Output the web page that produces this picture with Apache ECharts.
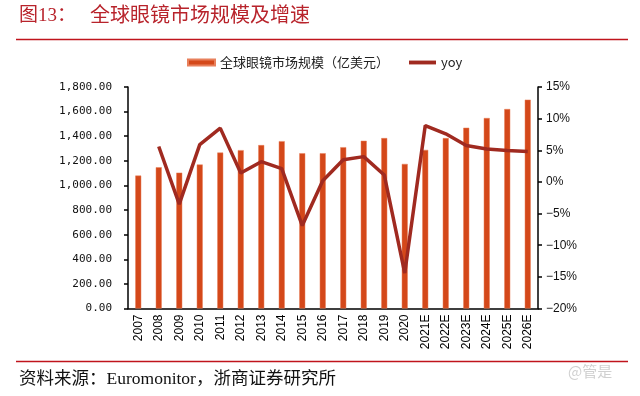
<!DOCTYPE html>
<html>
<head>
<meta charset="utf-8">
<script src="https://cdn.jsdelivr.net/npm/echarts@6/dist/echarts.min.js"></script>
<style>html,body{margin:0;padding:0;background:#fff;}#c{width:640px;height:396px;}</style>
</head>
<body>
<div id="c"></div>
<script>
const categories = ['2007','2008','2009','2010','2011','2012','2013','2014','2015','2016','2017','2018','2019','2020','2021E','2022E','2023E','2024E','2025E','2026E'];
const marketSize = [1080,1148,1104,1170,1267,1287,1328,1360,1262,1262,1311,1363,1385,1175,1289,1385,1469,1548,1621,1697];
const yoy = [null,5.6,-3.5,5.9,8.5,1.4,3.2,2.1,-6.9,0.2,3.5,4.0,1.1,-14.4,8.9,7.6,5.75,5.2,4.95,4.8];
const leftTicks = {min:0, max:1800, interval:200};
const rightTicks = {min:-20, max:15, interval:5};
const seriesNames = ['全球眼镜市场规模（亿美元）','yoy'];

const chart = echarts.init(document.getElementById('c'), null, {renderer:'canvas'});
const serifCJK = "'Liberation Serif', 'Noto Sans CJK SC', serif";
chart.setOption({
  animation:false,
  backgroundColor:'#fff',
  graphic:[
    {type:'text', left:19, top:7, style:{text:'图13：', font:"19px " + serifCJK, fill:'#B8232B'}},
    {type:'text', left:90, top:7, style:{text:'全球眼镜市场规模及增速', font:"20px " + serifCJK, fill:'#B8232B'}},
    {type:'line', shape:{x1:16,y1:39.5,x2:628,y2:39.5}, style:{stroke:'#C0141C', lineWidth:1.3}},
    {type:'line', shape:{x1:16,y1:361.5,x2:628,y2:361.5}, style:{stroke:'#C0141C', lineWidth:1.3}},
    {type:'text', left:19, top:371, style:{text:'资料来源：Euromonitor，浙商证券研究所', font:"17.5px " + serifCJK, fill:'#111'}},
    {type:'text', left:568, top:364, style:{text:'@管是', font:"15px 'Noto Sans CJK SC'", fill:'rgba(170,170,170,0.55)'}}
  ],
  legend:{
    left:182, top:51, itemWidth:27, itemHeight:6, itemGap:20,
    textStyle:{fontFamily:"'Noto Sans CJK SC'", fontSize:13, color:'#222'},
    data:[{name:seriesNames[0], icon:'rect'},
          {name:seriesNames[1], icon:'path://M0,0 L28,0 L28,4 L0,4 Z', itemStyle:{color:'#A02A20'}}]
  },
  grid:{left:128, right:102, top:87, bottom:87.5, containLabel:false},
  xAxis:{
    type:'category', data:categories,
    axisLine:{lineStyle:{color:'#000', width:1.5}},
    axisTick:{show:false},
    axisLabel:{rotate:90, color:'#000', fontFamily:"'Liberation Sans', Arial", fontSize:12, margin:6, interval:0}
  },
  yAxis:[
    {type:'value', min:leftTicks.min, max:leftTicks.max, interval:leftTicks.interval,
     axisLine:{show:true, lineStyle:{color:'#000', width:1.5}},
     axisTick:{show:true, inside:false, length:4, lineStyle:{color:'#000', width:1.5}},
     splitLine:{show:false},
     axisLabel:{color:'#111', fontFamily:"'DejaVu Sans Mono', monospace", fontSize:11, margin:16,
       formatter:v=>v.toLocaleString('en-US',{minimumFractionDigits:2, maximumFractionDigits:2})}},
    {type:'value', position:'right', min:rightTicks.min, max:rightTicks.max, interval:rightTicks.interval,
     axisLine:{show:true, lineStyle:{color:'#000', width:1.5}},
     axisTick:{show:true, inside:false, length:4, lineStyle:{color:'#000', width:1.5}},
     splitLine:{show:false},
     axisLabel:{color:'#111', fontFamily:"'Liberation Sans', Arial", fontSize:12, margin:8,
       formatter:v=>(v<0?'\u2212'+Math.abs(v):v)+'%'}}
  ],
  series:[
    {name:seriesNames[0], type:'bar', data:marketSize, yAxisIndex:0, barWidth:6,
     itemStyle:{color:'#D4481A', borderColor:'#E8805C', borderWidth:0.5}},
    {name:seriesNames[1], type:'line', data:yoy, yAxisIndex:1, symbol:'none', smooth:false,
     connectNulls:false, lineStyle:{color:'#A02A20', width:3.5}, itemStyle:{color:'#A02A20'}}
  ]
});
</script>
</body>
</html>
